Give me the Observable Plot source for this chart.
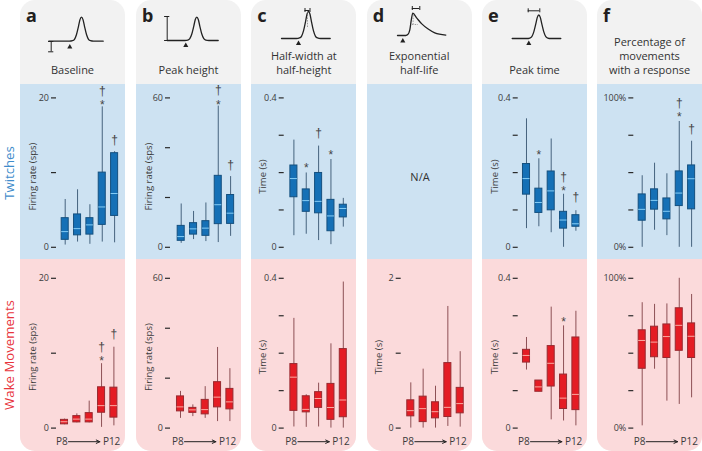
<!DOCTYPE html>
<html>
<head>
<meta charset="utf-8">
<script src="https://cdn.jsdelivr.net/npm/d3@7"></script>
<script src="https://cdn.jsdelivr.net/npm/@observablehq/plot@0.6"></script>
<style>
html,body{margin:0;padding:0;background:#fff;}
#chart{position:relative;width:702px;height:451px;overflow:hidden;font-family:"Open Sans",sans-serif;color:#333;}
.col{position:absolute;top:0;height:451px;width:105px;border-radius:15px;overflow:hidden;background:#f2f2f2;}
.blue{position:absolute;left:0;right:0;top:84px;height:175px;background:#cde2f2;}
.pink{position:absolute;left:0;right:0;top:259px;bottom:0;background:#fbdadb;}
.letter{position:absolute;top:3px;left:6px;font:bold 18px "Noto Sans",sans-serif;color:#231f20;}
.title{position:absolute;left:0;right:0;top:34px;height:43px;display:flex;flex-direction:column;justify-content:flex-end;text-align:center;font-size:11px;line-height:14px;color:#333;}
.abs{position:absolute;}
.abs svg{display:block;background:transparent;overflow:visible;}
.side{position:absolute;white-space:nowrap;font-size:13.2px;line-height:11px;transform:translate(-50%,-50%) rotate(-90deg);}
</style>
</head>
<body>
<div id="chart"></div>
<script>
// Box statistics per movement panel: [low, q1, median, q3, high], P8..P12
const twitchBaseline = [[0.3,1.0,2.1,3.9,6.4],[0.7,1.6,2.5,4.4,7.7],[0.4,1.7,3.0,3.9,5.7],[0.7,3.0,5.4,10.0,18.8],[0.6,4.2,7.2,12.6,12.8]];
const twitchPeak = [[1.6,2.6,4.3,8.6,17.4],[3.1,5.1,7.4,9.7,14.4],[2.3,4.6,7.7,10.5,17.8],[1.9,9.3,17.1,28.7,56.7],[4.4,9.4,13.7,21,28.4]];
const twitchHalfWidth = [[0.031,0.134,0.184,0.219,0.287],[0.035,0.095,0.125,0.155,0.199],[0.018,0.091,0.123,0.199,0.271],[0.007,0.043,0.084,0.127,0.235],[0.054,0.080,0.104,0.114,0.131]];
const twitchPeakTime = [[0.050,0.141,0.184,0.223,0.344],[0.055,0.092,0.120,0.157,0.237],[0.039,0.099,0.151,0.203,0.290],[0,0.050,0.073,0.095,0.142],[0.043,0.055,0.063,0.086,0.098]];
const twitchPercent = [[0,17.8,25.4,35.4,47.9],[11.4,25.2,31.4,38.8,56.3],[7.8,18.7,24.1,32.7,49.2],[0,27.6,36.3,50.8,84.2],[0,25.4,45.9,54.8,71]];

const wakeBaseline = [[0.45,0.5,0.85,1.1,1.2],[0.7,0.76,1.2,1.6,1.9],[0.7,0.76,1.2,2,3.6],[0.1,2.05,3.0,5.45,8.6],[0.3,1.4,3,5.4,10.8]];
const wakePeak = [[3.9,6.7,8.5,12.7,14.7],[4.6,6.1,7.3,8.1,9.3],[3.9,5.5,7.4,11.3,16.6],[2.6,8.3,12.4,18.4,32.3],[2.6,7.5,10.5,15.7,23.8]];
const wakeHalfWidth = [[0.003,0.046,0.136,0.171,0.293],[0.002,0.042,0.05,0.085,0.089],[0.003,0.054,0.079,0.096,0.12],[0,0.022,0.055,0.118,0.225],[0,0.029,0.075,0.211,0.39]];
const wakeHalfLife = [[0,0.157,0.233,0.371,0.604],[0,0.08,0.26,0.42,0.787],[0,0.13,0.219,0.345,0.559],[0.022,0.148,0.277,0.868,1.624],[0.013,0.197,0.327,0.537,1.02]];
const wakePeakTime = [[0.155,0.175,0.194,0.209,0.242],[0.097,0.097,0.11,0.127,0.127],[0.022,0.111,0.173,0.219,0.323],[0.019,0.051,0.08,0.143,0.273],[0.006,0.048,0.09,0.242,0.312]];
const wakePercent = [[1.5,39.6,58.5,65.3,83.7],[39.3,47.3,57.4,67.7,82.6],[18,46.8,61.1,69.2,82.9],[15.8,51.6,68.6,80,100],[20.2,46.8,61.3,69.9,89.2]];

// Significance marks: [box, symbols, value at which the symbols sit]
const marksTwitchA = [[4,"†\n*",20.3],[5,"†",14.4]];
const marksTwitchB = [[4,"†\n*",61],[5,"†",33]];
const marksTwitchC = [[2,"*",0.219],[3,"†",0.306],[4,"*",0.255]];
const marksTwitchE = [[2,"*",0.2545],[4,"†\n*",0.176],[5,"†",0.133]];
const marksTwitchF = [[4,"†\n*",93.4],[5,"†",79]];
const marksWakeA = [[4,"†\n*",10.2],[5,"†",12.5]];
const marksWakeE = [[4,"*",0.292]];

const columnLetters = ["a","b","c","d","e","f"];
const columnTitles = [["Baseline"],["Peak height"],["Half-width at","half-height"],["Exponential","half-life"],["Peak time"],["Percentage of","movements","with a response"]];

// Schematic response curves (time, relative rate)
const bumpTime = [-33,-12,-9,-7,-5,-3,-1.5,0,1.5,3,5,7,9,12,22];
const bumpRate = [0,0,2,8,28,62,90,100,90,62,28,8,2,0,0];
const decayTime = [-15,-7,-5,-3,-1.5,0,4,9,15,22,33];
const decayRate = [0,0,4,25,70,100,78,52,30,12,2];

const root = document.getElementById("chart");
const colLeft = [20,136,251.3,366.7,482,597];
const FONT = '"Open Sans",sans-serif';

colLeft.forEach((left,k)=>{
  const c = document.createElement("div");
  c.className = "col"; c.style.left = left+"px";
  c.innerHTML = '<div class="blue"></div><div class="pink"></div>';
  const l = document.createElement("div"); l.className="letter"; l.textContent=columnLetters[k]; c.appendChild(l);
  const t = document.createElement("div"); t.className="title";
  columnTitles[k].forEach(s=>{const d=document.createElement("div");d.textContent=s;t.appendChild(d);});
  c.appendChild(t);
  root.appendChild(c);
});

function place(el,left,top){
  const d=document.createElement("div"); d.className="abs";
  d.style.left=left+"px"; d.style.top=top+"px"; d.appendChild(el); root.appendChild(d);
}

const ROWS = {
  twitch:{top:84,height:175,y0:246.8,y1:97.4,fill:"#1570b6",stroke:"#15507f",whisker:"#46637e",median:"#86cdf5"},
  wake:{top:259,height:192,y0:427.6,y1:277.8,fill:"#e41c24",stroke:"#982a30",whisker:"#8d5055",median:"#f9aaa2"}
};

function boxPanel({col,row,stats,max,ticks,labels,ylabel,marks=[],tickRight,first,labelX,foot=false}){
  const R=ROWS[row];
  const step=12.35;
  const rows=stats.map((s,i)=>({i:i+1,lo:s[0],q1:s[1],med:s[2],q3:s[3],hi:s[4]}));
  const syms=marks.map(m=>({i:m[0],s:m[1],y:m[2]}));
  const mt=R.y1-R.top, mb=R.top+R.height-R.y0;
  const symStyle={x:"i",y:"y",text:"s",fill:"#444",fontSize:12,fontFamily:'"Liberation Sans",sans-serif'};
  const mk=[
    Plot.axisY({ticks,tickSize:5,tickPadding:2.5,tickFormat:d=>{const j=ticks.indexOf(d);return labels[j]||"";},label:null,anchor:"left",
      stroke:"#2a2a2a",strokeWidth:1.2,fill:"#3c3c3c",fontSize:9,fontFamily:FONT}),
    Plot.ruleX(rows,{x:"i",y1:"lo",y2:"hi",stroke:R.whisker,strokeWidth:1}),
    Plot.barY(rows,{x:"i",y1:"q1",y2:"q3",fill:R.fill,stroke:R.stroke,strokeWidth:1}),
    Plot.tickY(rows,{x:"i",y:"med",stroke:R.median,strokeWidth:1}),
    Plot.text(syms.filter(d=>d.s==="†"),{...symStyle,dy:0}),
    Plot.text(syms.filter(d=>d.s==="*"),{...symStyle,dy:3}),
    Plot.text(syms.filter(d=>d.s.length>1),{...symStyle,dy:1.5,lineHeight:1.18})
  ];
  if(ylabel) mk.push(Plot.text([ylabel],{frameAnchor:"left",textAnchor:"middle",dx:labelX-tickRight,dy:4,rotate:-90,fill:"#3c3c3c",fontSize:9.5,fontFamily:FONT}));
  if(foot){
    const footStyle={y:()=>0,text:"t",dy:13.6,fill:"#3c3c3c",fontSize:10,fontFamily:FONT};
    mk.push(Plot.text([{x:1,t:"P8"}],{...footStyle,x:"x",dx:-2.7}));
    mk.push(Plot.text([{x:5,t:"P12"}],{...footStyle,x:"x",dx:-2.3}));
    mk.push(Plot.arrow([{a:1,b:5}],{x1:"a",x2:"b",y1:()=>0,y2:()=>0,dy:13.6,insetStart:4,insetEnd:14,stroke:"#222",strokeWidth:1,headLength:6,headAngle:50}));
  }
  const p=Plot.plot({
    width:105,height:R.height,marginLeft:tickRight,marginRight:0,marginTop:mt,marginBottom:mb,
    style:{background:"transparent",overflow:"visible"},
    x:{type:"band",axis:null,domain:[1,2,3,4,5],round:false,paddingInner:0.43,paddingOuter:0.215,range:[first-step/2,first+4*step+step/2]},
    y:{domain:[0,max],label:null},
    marks:mk
  });
  place(p,colLeft[col],R.top);
}

const T4=[0,0.1,0.2,0.3,0.4],L4=["0","","","","0.4"];
const P=[0,25,50,75,100],LP=["0%","","","","100%"];

boxPanel({col:0,row:"twitch",stats:twitchBaseline,max:20,ticks:[0,10,20],labels:["0","","20"],ylabel:"Firing rate (sps)",marks:marksTwitchA,tickRight:36,first:44.7,labelX:12});
boxPanel({col:1,row:"twitch",stats:twitchPeak,max:60,ticks:[0,20,40,60],labels:["0","","","60"],ylabel:"Firing rate (sps)",marks:marksTwitchB,tickRight:34,first:44.7,labelX:12});
boxPanel({col:2,row:"twitch",stats:twitchHalfWidth,max:0.4,ticks:T4,labels:L4,ylabel:"Time (s)",marks:marksTwitchC,tickRight:32.7,first:42.4,labelX:11});
boxPanel({col:4,row:"twitch",stats:twitchPeakTime,max:0.4,ticks:T4,labels:L4,ylabel:"Time (s)",marks:marksTwitchE,tickRight:35.7,first:44,labelX:12});
boxPanel({col:5,row:"twitch",stats:twitchPercent,max:100,ticks:P,labels:LP,ylabel:"",marks:marksTwitchF,tickRight:36.3,first:44.7,labelX:12});

boxPanel({col:0,row:"wake",stats:wakeBaseline,max:20,ticks:[0,10,20],labels:["0","","20"],ylabel:"Firing rate (sps)",marks:marksWakeA,tickRight:36,first:44,labelX:12,foot:true});
boxPanel({col:1,row:"wake",stats:wakePeak,max:60,ticks:[0,20,40,60],labels:["0","","","60"],ylabel:"Firing rate (sps)",tickRight:34,first:44,labelX:12,foot:true});
boxPanel({col:2,row:"wake",stats:wakeHalfWidth,max:0.4,ticks:T4,labels:L4,ylabel:"Time (s)",tickRight:32.7,first:42.4,labelX:11,foot:true});
boxPanel({col:3,row:"wake",stats:wakeHalfLife,max:2,ticks:[0,1,2],labels:["0","","2"],ylabel:"Time (s)",tickRight:33.7,first:43.3,labelX:11,foot:true});
boxPanel({col:4,row:"wake",stats:wakePeakTime,max:0.4,ticks:T4,labels:L4,ylabel:"Time (s)",marks:marksWakeE,tickRight:35.7,first:44,labelX:12,foot:true});
boxPanel({col:5,row:"wake",stats:wakePercent,max:100,ticks:P,labels:LP,ylabel:"",tickRight:36.3,first:44.7,labelX:12,foot:true});

// N/A panel
place(Plot.plot({width:105,height:175,margin:0,x:{axis:null},y:{axis:null},style:{background:"transparent"},
  marks:[Plot.text(["N/A"],{frameAnchor:"middle",dy:5,fontSize:11,fill:"#333",fontFamily:FONT})]}),colLeft[3],84);

// Schematic sketches: one small Plot per column, using a header-sized linear scale
function sketch({col,times,rates,peakX,baseY,topY,wScale=1,left,right,tri,triY,extras=[]}){
  const pts=times.map((t,i)=>({x:peakX+t*wScale,y:baseY-(baseY-topY)*rates[i]/100}));
  pts[0].x=left; pts[pts.length-1].x=right;
  const mk=[
    Plot.line(pts,{x:"x",y:"y",curve:"monotone-x",stroke:"#222",strokeWidth:1.3}),
    Plot.dot([{x:tri,y:triY}],{x:"x",y:"y",symbol:"triangle",r:1.9,fill:"#222",stroke:"none"}),
    ...extras
  ];
  place(Plot.plot({width:105,height:84,margin:0,x:{domain:[0,105],axis:null},y:{domain:[0,84],range:[0,84],axis:null},
    style:{background:"transparent",overflow:"visible"},marks:mk}),colLeft[col],0);
}
function vbar(x,y1,y2,cap=2.6){
  const s={stroke:"#222",strokeWidth:1};
  return [Plot.ruleX([x],{y1,y2,...s}),Plot.ruleY([y1,y2],{x1:x-cap,x2:x+cap,...s})];
}
function hbar(x1,x2,y,cap=2){
  const s={stroke:"#222",strokeWidth:1};
  return [Plot.ruleY([y],{x1,x2,...s}),Plot.ruleX([x1,x2],{y1:y-cap,y2:y+cap,...s})];
}
const dash={stroke:"#777",strokeWidth:0.7,strokeDasharray:"1.5,1.2"};

sketch({col:0,times:bumpTime,rates:bumpRate,peakX:61,baseY:40.7,topY:16.7,left:28.3,right:82.7,tri:49.3,triY:46.5,extras:vbar(30.7,41,51.3)});
sketch({col:1,times:bumpTime,rates:bumpRate,peakX:60.3,baseY:40,topY:16.7,left:30.7,right:81.7,tri:49.3,triY:45,extras:vbar(30.7,16,40)});
sketch({col:2,times:bumpTime,rates:bumpRate,peakX:57,baseY:38,topY:11,wScale:1,left:30,right:78.7,tri:47,triY:43,
  extras:[...hbar(53.5,58.5,10),Plot.ruleX([56],{y1:12,y2:27,...dash})]});
sketch({col:3,times:decayTime,rates:decayRate,peakX:45.3,baseY:35,topY:12.7,left:30,right:78.3,tri:35.3,triY:40.5,
  extras:[...hbar(44.8,52.3,8),Plot.ruleX([45.6],{y1:15,y2:24,...dash}),Plot.ruleY([24],{x1:45,x2:51,...dash})]});
sketch({col:4,times:bumpTime,rates:bumpRate,peakX:56.3,baseY:38,topY:14.5,left:29.7,right:78.3,tri:46.3,triY:43,extras:hbar(45.7,57.3,10.3)});

// Row labels
for(const [txt,x,y,color] of [["Twitches",9,173,"#3f8ccb"],["Wake Movements",9,355,"#e8353d"]]){
  const d=document.createElement("div"); d.className="side"; d.textContent=txt;
  d.style.left=x+"px"; d.style.top=y+"px"; d.style.color=color; root.appendChild(d);
}
</script>
</body>
</html>
